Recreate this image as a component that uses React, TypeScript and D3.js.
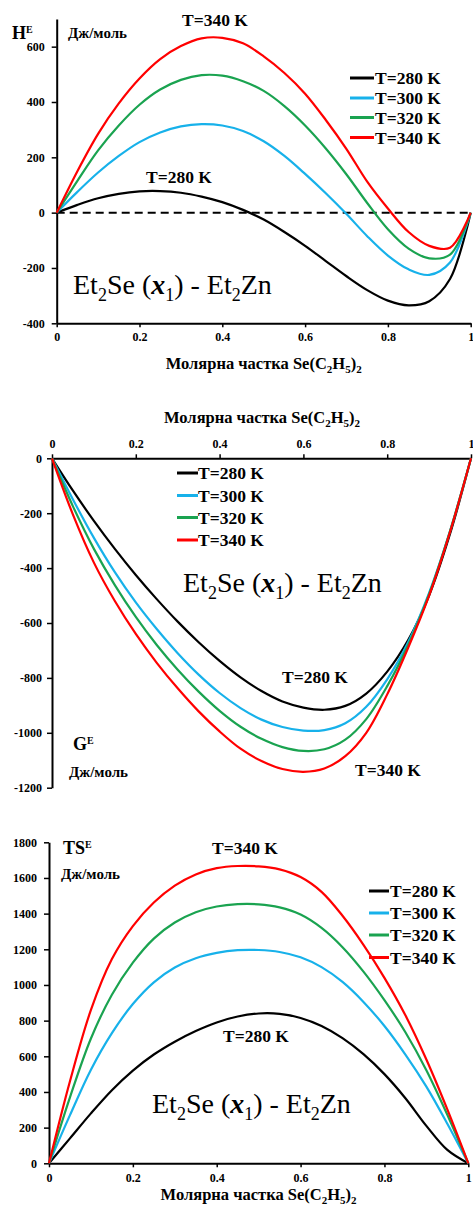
import React, { useEffect, useRef } from 'react';
import * as d3 from 'd3';

// molar fraction of Se(C2H5)2
const xFrac = [0, 0.05, 0.1, 0.15, 0.2, 0.25, 0.3, 0.35, 0.4, 0.45, 0.5, 0.55, 0.6, 0.65, 0.7, 0.75, 0.8, 0.85, 0.9, 0.95, 1];

const tempLabels = ['T=280 K', 'T=300 K', 'T=320 K', 'T=340 K'];
const tempColors = ['#000000', '#17b1ea', '#1aa350', '#ff0000'];

// H^E, J/mol
const hE280 = [0, 28, 52, 68, 77, 78, 72, 58, 38, 10, -25, -70, -120, -175, -230, -280, -318, -335, -320, -240, 0];
const hE300 = [0, 75, 145, 205, 255, 290, 312, 320, 315, 295, 258, 205, 140, 70, -5, -85, -155, -205, -225, -180, 0];
const hE320 = [0, 115, 225, 315, 390, 445, 480, 497, 495, 475, 440, 385, 315, 232, 138, 35, -60, -130, -165, -152, 0];
const hE340 = [0, 150, 285, 395, 485, 555, 602, 630, 632, 612, 565, 505, 430, 335, 230, 112, 15, -70, -120, -127, 0];

// G^E, J/mol
const gE280 = [0, -118, -228, -330, -425, -513, -595, -670, -738, -798, -848, -886, -908, -916, -902, -857, -777, -662, -500, -275, 0];
const gE300 = [0, -150, -290, -415, -525, -622, -710, -788, -855, -910, -952, -979, -992, -990, -965, -905, -805, -670, -490, -265, 0];
const gE320 = [0, -175, -330, -462, -578, -680, -770, -850, -920, -978, -1022, -1052, -1066, -1060, -1025, -950, -830, -680, -495, -265, 0];
const gE340 = [0, -205, -380, -520, -640, -745, -838, -922, -995, -1058, -1103, -1132, -1142, -1130, -1085, -1000, -860, -690, -500, -268, 0];

// TS^E, J/mol
const tsE280 = [0, 140, 280, 410, 520, 610, 682, 742, 790, 823, 840, 838, 815, 770, 702, 612, 500, 365, 210, 75, 0];
const tsE300 = [0, 270, 525, 730, 893, 1015, 1098, 1150, 1180, 1195, 1196, 1185, 1155, 1100, 1017, 905, 770, 610, 430, 222, 0];
const tsE320 = [0, 370, 700, 945, 1125, 1260, 1350, 1408, 1440, 1453, 1452, 1435, 1395, 1320, 1212, 1075, 915, 735, 522, 272, 0];
const tsE340 = [0, 460, 860, 1145, 1330, 1462, 1557, 1620, 1655, 1667, 1665, 1648, 1605, 1522, 1388, 1225, 1040, 830, 582, 302, 0];

const xTicks = [0, 0.2, 0.4, 0.6, 0.8, 1];
const hTicks = [-400, -200, 0, 200, 400, 600];
const gTicks = [-1200, -1000, -800, -600, -400, -200, 0];
const tsTicks = [0, 200, 400, 600, 800, 1000, 1200, 1400, 1600, 1800];

const FONT = 'Liberation Serif, Tinos, DejaVu Serif, Times New Roman, serif';

type Part = { t: string; size?: number; shift?: number; italic?: boolean; bold?: boolean };

function rich(g: any, x: number, y: number, parts: Part[], base: number, bold: boolean, anchor = 'start') {
  const text = g.append('text')
    .attr('x', x).attr('y', y)
    .style('font-family', FONT)
    .style('font-size', base + 'px')
    .style('font-weight', bold ? 'bold' : 'normal')
    .attr('text-anchor', anchor)
    .attr('fill', '#000');
  let cur = 0;
  parts.forEach(p => {
    const shift = p.shift || 0;
    const ts = text.append('tspan').attr('dy', shift - cur).text(p.t);
    if (p.size) ts.style('font-size', p.size + 'px');
    if (p.italic) ts.style('font-style', 'italic');
    if (p.bold !== undefined) ts.style('font-weight', p.bold ? 'bold' : 'normal');
    cur = shift;
  });
  return text;
}

const xTitle: Part[] = [
  { t: 'Молярна частка Se(C' },
  { t: '2', size: 11, shift: 4 },
  { t: 'H' },
  { t: '5', size: 11, shift: 4 },
  { t: ')' },
  { t: '2', size: 11, shift: 4 },
];

const mixLabel: Part[] = [
  { t: 'Et' },
  { t: '2', size: 18, shift: 7 },
  { t: 'Se (' },
  { t: 'x', italic: true, bold: true },
  { t: '1', size: 18, shift: 7 },
  { t: ') - Et' },
  { t: '2', size: 18, shift: 7 },
  { t: 'Zn' },
];

type Panel = {
  xRange: [number, number];
  yDomain: [number, number];
  yRange: [number, number];
  yTicks: number[];
  xAxisAt: 'top' | 'bottom';
  xAxisY: number;
  xPad: number;
  yPad: number;
  series: number[][];
  zeroLine?: boolean;
};

function drawPanel(svg: any, p: Panel) {
  const x = d3.scaleLinear().domain([0, 1]).range(p.xRange);
  const y = d3.scaleLinear().domain(p.yDomain).range(p.yRange);
  const g = svg.append('g');

  const yAxis = g.append('g')
    .attr('transform', `translate(${p.xRange[0]},0)`)
    .call(d3.axisLeft(y).tickValues(p.yTicks).tickSize(5).tickSizeOuter(0).tickPadding(p.yPad).tickFormat((d: any) => String(d)));

  const xAxisGen = p.xAxisAt === 'top' ? d3.axisTop(x) : d3.axisBottom(x);
  const xAxis = g.append('g')
    .attr('transform', `translate(0,${p.xAxisY})`)
    .call(xAxisGen.tickValues(xTicks).tickSize(4).tickSizeOuter(0).tickPadding(p.xPad).tickFormat((d: any) => String(d)));

  [yAxis, xAxis].forEach(a => {
    a.attr('font-family', null).attr('font-size', null);
    a.select('.domain').attr('stroke', '#000').attr('stroke-width', 2);
    a.selectAll('.tick line').attr('stroke', '#000').attr('stroke-width', 1.5);
    a.selectAll('.tick text')
      .attr('fill', '#000')
      .style('font-family', FONT)
      .style('font-size', '12px')
      .style('font-weight', 'bold');
  });

  if (p.zeroLine) {
    g.append('line')
      .attr('x1', p.xRange[0]).attr('x2', p.xRange[1])
      .attr('y1', y(0)).attr('y2', y(0))
      .attr('stroke', '#000').attr('stroke-width', 2)
      .attr('stroke-dasharray', '8,5');
  }

  const line = d3.line<number>()
    .x((_, i) => x(xFrac[i]))
    .y(d => y(d))
    .curve(d3.curveCatmullRom.alpha(0.5));

  p.series.forEach((s, i) => {
    g.append('path')
      .attr('d', line(s))
      .attr('fill', 'none')
      .attr('stroke', tempColors[i])
      .attr('stroke-width', 2.2);
  });
  return g;
}

function legend(g: any, lx0: number, lx1: number, tx: number, baselines: number[]) {
  tempLabels.forEach((lab, i) => {
    g.append('line')
      .attr('x1', lx0).attr('x2', lx1)
      .attr('y1', baselines[i] - 6).attr('y2', baselines[i] - 6)
      .attr('stroke', tempColors[i]).attr('stroke-width', 3);
    label(g, tx, baselines[i], lab, 17.5);
  });
}

function label(g: any, x: number, y: number, t: string, size: number) {
  g.append('text')
    .attr('x', x).attr('y', y)
    .style('font-family', FONT).style('font-size', size + 'px').style('font-weight', 'bold')
    .text(t);
}

export default function App() {
  const ref = useRef<SVGSVGElement>(null);

  useEffect(() => {
    const svg = d3.select(ref.current);
    svg.selectAll('*').remove();

    // ---- H^E ----
    const top = drawPanel(svg, {
      xRange: [56.7, 470.7], yDomain: [-400, 700], yRange: [323.3, 19], yTicks: hTicks,
      xAxisAt: 'bottom', xAxisY: 323.3, xPad: 5, yPad: 7,
      series: [hE280, hE300, hE320, hE340], zeroLine: true,
    });
    rich(top, 12, 39, [{ t: 'H' }, { t: 'E', size: 10, shift: -6 }], 18, true);
    label(top, 68, 38, 'Дж/моль', 15);
    label(top, 182, 26, 'T=340 K', 17.5);
    label(top, 146, 183, 'T=280 K', 17.5);
    legend(top, 350, 374, 375, [84, 104, 123.5, 143.5]);
    rich(top, 73, 294, mixLabel, 28, false);
    rich(top, 263.7, 369, xTitle, 16.5, true, 'middle');

    // ---- G^E ----
    const mid = drawPanel(svg, {
      xRange: [52, 471], yDomain: [-1200, 0], yRange: [787.7, 458.3], yTicks: gTicks,
      xAxisAt: 'top', xAxisY: 458.3, xPad: 6, yPad: 5,
      series: [gE280, gE300, gE320, gE340],
    });
    rich(mid, 262, 423, xTitle, 16.5, true, 'middle');
    legend(mid, 177, 198, 198, [479, 501.5, 523.5, 546]);
    rich(mid, 183, 592, mixLabel, 28, false);
    label(mid, 282, 683, 'T=280 K', 17.5);
    label(mid, 355, 776, 'T=340 K', 17.5);
    rich(mid, 73, 750, [{ t: 'G' }, { t: 'E', size: 10, shift: -6 }], 18, true);
    label(mid, 69, 777, 'Дж/моль', 15);

    // ---- TS^E ----
    const bot = drawPanel(svg, {
      xRange: [49, 468.3], yDomain: [0, 1800], yRange: [1163.3, 842.3], yTicks: tsTicks,
      xAxisAt: 'bottom', xAxisY: 1163.3, xPad: 6, yPad: 7,
      series: [tsE280, tsE300, tsE320, tsE340],
    });
    rich(bot, 63, 854, [{ t: 'TS' }, { t: 'E', size: 10, shift: -6 }], 18, true);
    label(bot, 61, 879, 'Дж/моль', 15);
    label(bot, 212, 854, 'T=340 K', 17.5);
    label(bot, 223, 1042, 'T=280 K', 17.5);
    legend(bot, 369, 389, 390, [897, 919, 941, 963.5]);
    rich(bot, 152, 1113, mixLabel, 28, false);
    rich(bot, 258.6, 1200, xTitle, 16.5, true, 'middle');
  }, []);

  return (
    <svg
      ref={ref}
      width={473}
      height={1207}
      style={{ position: 'absolute', left: 0, top: 0, background: '#fff' }}
    />
  );
}
